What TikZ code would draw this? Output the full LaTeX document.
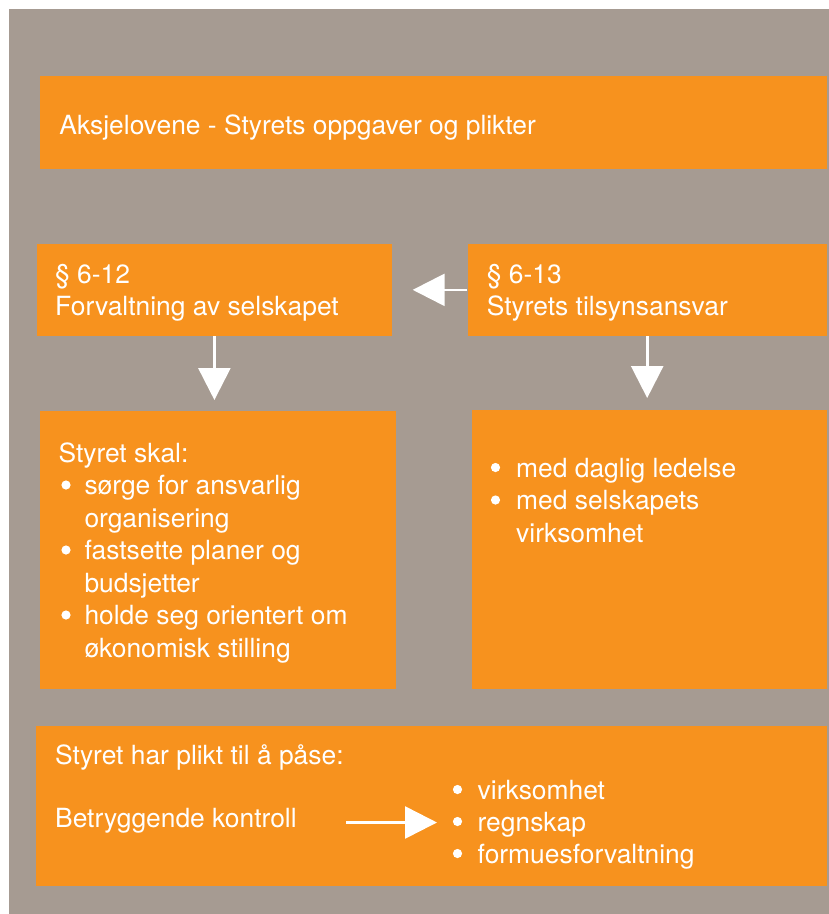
\documentclass[tikz,border=0pt]{standalone}
\usepackage{fontspec}
\setmainfont{TeX Gyre Heros}
\usetikzlibrary{arrows.meta}

\definecolor{panel}{RGB}{166,155,146}
\definecolor{boxorange}{RGB}{247,146,30}

% stacked lines whose first baseline is the node's base anchor
\newcommand\stack[1]{\begin{tabular}[t]{@{}l@{}}#1\end{tabular}}
% indent of list items (the bullet dots are drawn in front of them)
\newcommand\cont{\hspace*{26pt}}

\tikzset{
  box/.style={fill=boxorange, draw=none, inner sep=0pt, anchor=north west},
  txt/.style={anchor=base west, inner sep=0pt, text=white,
              font=\fontsize{26.4}{32.5}\selectfont},
  listtxt/.style={txt, font=\fontsize{26.4}{32}\selectfont},
  flow/.style={draw=white, line width=2.6pt,
               -{Triangle[width=32pt,length=32pt]}},
  dotmark/.style={fill=white},
}

\begin{document}
\begin{tikzpicture}[x=1pt, y=-1pt]
  \useasboundingbox (0,0) rectangle (829,914);
  \fill[white] (0,0) rectangle (829,914);
  \fill[panel] (9,9) rectangle (829,914);

  % boxes
  \node[box, minimum width=787.5pt, minimum height=93pt]   (title) at (39.5,76)   {};
  \node[box, minimum width=355pt,   minimum height=92.7pt] (b2l)   at (36.7,243.3) {};
  \node[box, minimum width=359.4pt, minimum height=92.7pt] (b2r)   at (467.3,243.3) {};
  \node[box, minimum width=355.7pt, minimum height=278pt]  (b3l)   at (40,410.7)  {};
  \node[box, minimum width=355.3pt, minimum height=278.7pt](b3r)   at (471.7,410) {};
  \node[box, minimum width=791pt,   minimum height=160.3pt](duty)  at (36,725.7)  {};

  % texts
  \node[txt] (titletxt) at (59.3,134) {Aksjelovene - Styrets oppgaver og plikter};
  \node[txt] (b2ltxt) at (55,283.3) {\stack{§ 6-12\\Forvaltning av selskapet}};
  \node[txt] (b2rtxt) at (486.7,283.3) {\stack{§ 6-13\\Styrets tilsynsansvar}};
  \node[txt] (b3ltxt) at (58.3,462.3) {\stack{Styret skal:\\
      \cont sørge for ansvarlig\\
      \cont organisering\\
      \cont fastsette planer og\\
      \cont budsjetter\\
      \cont holde seg orientert om\\
      \cont økonomisk stilling}};
  \node[txt] (b3rtxt) at (490,477.3) {\stack{%
      \cont med daglig ledelse\\
      \cont med selskapets\\
      \cont virksomhet}};
  \node[txt] (dutyhead) at (55,764.3) {Styret har plikt til å påse:};
  \node[txt] (ctrl) at (55,827.7) {Betryggende kontroll};
  \node[listtxt] (ctrllist) at (451.5,799.3) {\stack{%
      \cont virksomhet\\
      \cont regnskap\\
      \cont formuesforvaltning}};

  % bullet dots
  \foreach \y in {485,550,615} \fill[dotmark] (66,\y) circle (4.6pt);
  \foreach \y in {467.5,500} \fill[dotmark] (495.5,\y) circle (4.6pt);
  \foreach \y in {789.5,821.5,853.5} \fill[dotmark] (457.5,\y) circle (4.6pt);

  % connectors
  \draw[flow, shorten >=10.7pt] (b2l.south) -- (b2l.south |- b3l.north);
  \draw[flow, shorten >=12pt]   (b2r.south) -- (b2r.south |- b3r.north);
  \draw[flow, shorten >=20.6pt] (b2r.west) -- (b2r.west -| b2l.east);
  \coordinate (k1) at (346,822.5);
  \coordinate (k2) at (437,822.5);
  \draw[flow] (k1) -- (k2);
\end{tikzpicture}
\end{document}
